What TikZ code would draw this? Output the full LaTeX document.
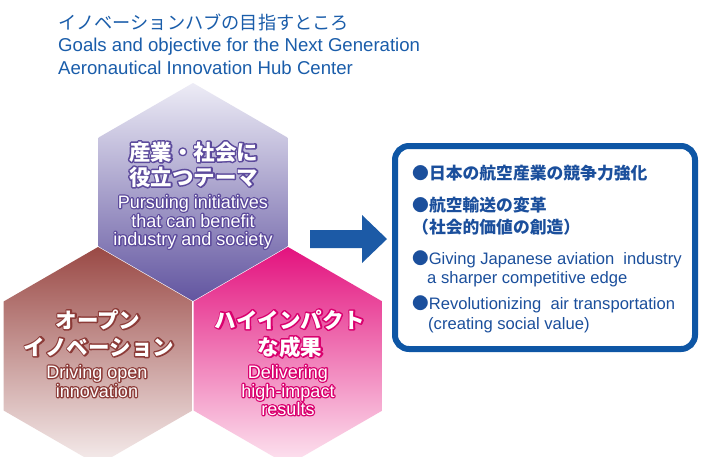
\documentclass[tikz,border=0pt]{standalone}
\usepackage{fontspec}
\setmainfont{Liberation Sans}
\newfontfamily\jp{Noto Sans CJK JP}
\usetikzlibrary{shapes.geometric}
\definecolor{titleblue}{HTML}{1A5DAA}
\definecolor{boxblue}{HTML}{0E56A5}
\definecolor{txtblue}{HTML}{1B4F9C}
\definecolor{arrowblue}{HTML}{1C5AA6}
\definecolor{purTop}{HTML}{EDECF6}
\definecolor{purBot}{HTML}{6255A0}
\definecolor{brnTop}{HTML}{9A4945}
\definecolor{brnBot}{HTML}{F6EEEE}
\definecolor{magTop}{HTML}{E3127E}
\definecolor{magBot}{HTML}{FDE6F1}
% outlined (haloed) text: stroke-only layer under a normal fill
\newcommand{\halo}[3][3]{\rlap{\special{pdf:literal direct 1 Tr 1 j #1 w #2 RG}#3\special{pdf:literal direct 0 Tr}}#3}
\begin{document}
\begin{tikzpicture}[x=1pt,y=-1pt,
  hex/.style={regular polygon, regular polygon sides=6, shape border rotate=30,
    minimum size=218pt, inner sep=0pt, outer sep=0pt, draw=none},
  hjp/.style={anchor=base, inner sep=0pt, text=white, font=\jp\bfseries\fontsize{21.5}{25}\selectfont},
  hen/.style={anchor=base, inner sep=0pt, text=white, font=\fontsize{18}{19}\selectfont},
  ttl/.style={anchor=base west, inner sep=0pt, text=titleblue},
  bjp/.style={anchor=base west, inner sep=0pt, text=txtblue, font=\jp\bfseries\fontsize{16.8}{18}\selectfont},
  ben/.style={anchor=base west, inner sep=0pt, text=txtblue, font=\fontsize{16.6}{18}\selectfont}]
\useasboundingbox (0,0) rectangle (701,456);
\fill[white] (0,0) rectangle (701,456);

% title
\node[ttl, font=\jp\fontsize{18.2}{20}\selectfont] (t1) at (58,29) {イノベーションハブの目指すところ};
\node[ttl, font=\fontsize{18.6}{20}\selectfont] (t2) at (58,51) {Goals and objective for the Next Generation};
\node[ttl, font=\fontsize{18.6}{20}\selectfont] (t3) at (58,74) {Aeronautical Innovation Hub Center};

% hexagons
\node[hex, top color=purTop, bottom color=purBot] (hexT) at (193,192) {};
\node[hex, top color=brnTop, bottom color=brnBot] (hexL) at (98,356) {};
\node[hex, top color=magTop, bottom color=magBot] (hexR) at (288,356) {};

% top hex text
\node[hjp] (a1) at (193.5,160) {\halo{0.36 0.29 0.61}{産業・社会に}};
\node[hjp] (a2) at (193.5,185) {\halo{0.36 0.29 0.61}{役立つテーマ}};
\node[hen] (a3) at (193,208) {\halo[2.6]{0.36 0.29 0.61}{Pursuing initiatives}};
\node[hen] (a4) at (193,227) {\halo[2.6]{0.36 0.29 0.61}{that can benefit}};
\node[hen] (a5) at (193,245) {\halo[2.6]{0.36 0.29 0.61}{industry and society}};

% left hex text
\node[hjp] (l1) at (98,328) {\halo{0.55 0.23 0.22}{オープン}};
\node[hjp] (l2) at (99,355) {\halo{0.55 0.23 0.22}{イノベーション}};
\node[hen] (l3) at (97,378) {\halo[2.6]{0.55 0.23 0.22}{Driving open}};
\node[hen] (l4) at (97,397) {\halo[2.6]{0.55 0.23 0.22}{innovation}};

% right hex text
\node[hjp] (r1) at (290,328) {\halo{0.85 0.0 0.43}{ハイインパクト}};
\node[hjp] (r2) at (290,355) {\halo{0.85 0.0 0.43}{な成果}};
\node[hen] (r3) at (288,378) {\halo[2.6]{0.85 0.0 0.43}{Delivering}};
\node[hen] (r4) at (288,397) {\halo[2.6]{0.85 0.0 0.43}{high-impact}};
\node[hen] (r5) at (288,415) {\halo[2.6]{0.85 0.0 0.43}{results}};

% arrow
\fill[arrowblue] (310,230) -- (362,230) -- (362,215) -- (387,239) -- (362,263) -- (362,248) -- (310,248) -- cycle;

% goal box
\node[draw=boxblue, line width=6pt, rounded corners=14pt, minimum width=300pt, minimum height=203pt, inner sep=0pt] (box) at (545,247.5) {};

\node[bjp] (b1) at (412,179) {●日本の航空産業の競争力強化};
\node[bjp] (b2) at (412,211) {●航空輸送の変革};
\node[bjp] (b3) at (412,233) {（社会的価値の創造）};
\node[ben] (b4) at (412,264) {{\jp ●}Giving Japanese aviation\ \ industry};
\node[ben] (b5) at (427,283) {a sharper competitive edge};
\node[ben] (b6) at (412,309) {{\jp ●}Revolutionizing\ \ air transportation};
\node[ben] (b7) at (428,329) {(creating social value)};
\end{tikzpicture}
\end{document}
